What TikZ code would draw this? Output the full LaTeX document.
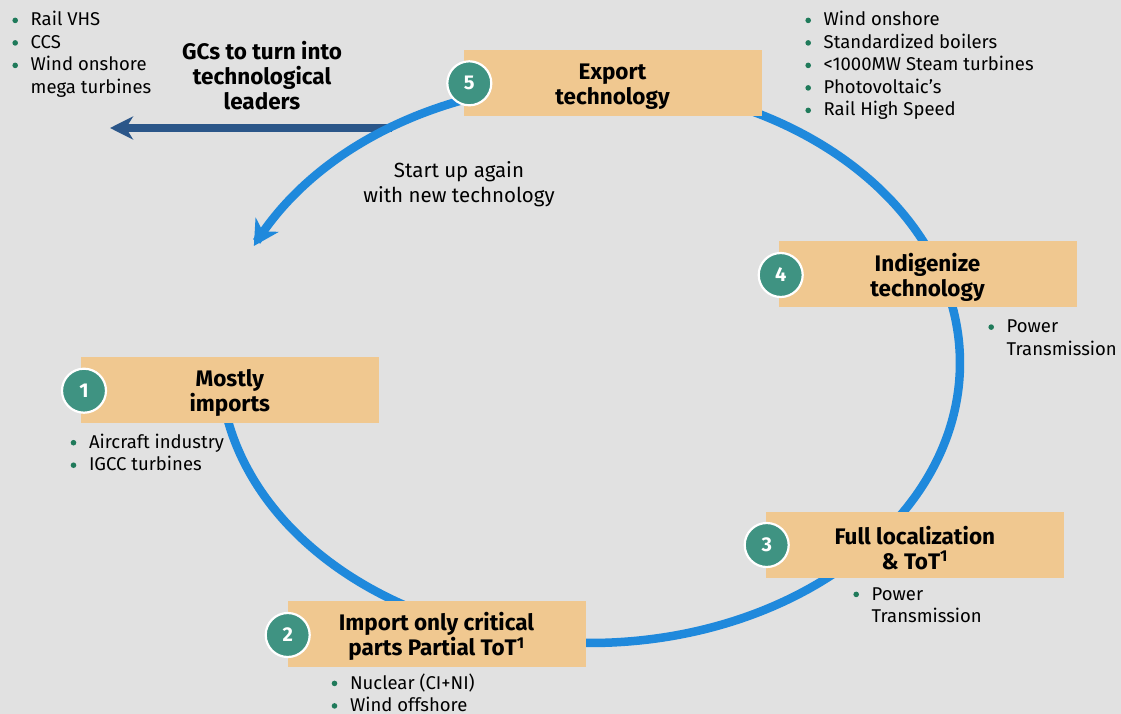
\documentclass[tikz,border=0pt]{standalone}
\usepackage{fontspec}
\setmainfont{Fira Sans}
\usetikzlibrary{arrows.meta}
\definecolor{bgc}{HTML}{E1E1E1}
\definecolor{boxc}{HTML}{F0C890}
\definecolor{tealc}{HTML}{3F9382}
\definecolor{bluec}{HTML}{1F89DC}
\definecolor{darkb}{HTML}{2B5689}
\definecolor{bulc}{HTML}{1F7A5A}
\newcommand\bl{\makebox[15.5pt][l]{\makebox[0pt]{\tikz[x=1pt,y=1pt,baseline=0pt]\fill[bulc] (0,5.6) circle (2.8);}}}
\begin{document}
\begin{tikzpicture}[x=1pt,y=-1pt,
  stepbox/.style={fill=boxc, minimum width=298pt, minimum height=66pt, inner sep=0pt},
  boxtext/.style={inner sep=0pt, align=center, font=\fontsize{22.5}{25}\selectfont\bfseries},
  numcirc/.style={circle, fill=tealc, draw=white, line width=2.2pt, minimum size=44pt, inner sep=0pt, text=white, font=\fontsize{20}{20}\selectfont\bfseries},
  blist/.style={anchor=base west, inner sep=0pt, font=\fontsize{18.5}{22.5}\selectfont, align=left},
  plaintext/.style={inner sep=0pt, align=center, font=\fontsize{20.5}{25}\selectfont},
  boldtext/.style={inner sep=0pt, align=center, font=\fontsize{22.5}{25}\selectfont\bfseries},
  bluearc/.style={draw=bluec, line width=8.5pt, -{Stealth[length=25pt,width=27pt,inset=8pt]}},
  darkarrow/.style={draw=darkb, line width=8pt, -{Stealth[length=23pt,width=23pt,inset=7pt]}}
]
\useasboundingbox (0,0) rectangle (1121,714);
\fill[bgc] (0,0) rectangle (1121,714);

% dark arrow
\coordinate (gstart) at (392,128);
\coordinate (gtip) at (110,128);
\draw[darkarrow] (gstart) -- (gtip);

% blue cycle (ellipse arc, ending in the restart arrow)
\draw[bluearc] plot[domain=185:515.3, samples=200, smooth] ({590+370*cos(\x)}, {363-280*sin(\x)});

% boxes
\node[stepbox] (b5) at (612.5,83.3) {};
\node[stepbox] (b4) at (927.5,274.3) {};
\node[stepbox] (b1) at (229.8,390.3) {};
\node[stepbox] (b3) at (914.8,544.7) {};
\node[stepbox] (b2) at (436.5,633.8) {};
\node[boxtext] (t5) at ([yshift=-3pt]b5.center) {Export\\technology};
\node[boxtext] (t4) at ([yshift=-3pt]b4.center) {Indigenize\\technology};
\node[boxtext] (t1) at ([yshift=-3pt]b1.center) {Mostly\\imports};
\node[boxtext] (t3) at ([yshift=-3pt]b3.center) {Full localization\\\& ToT\textsuperscript{1}};
\node[boxtext] (t2) at ([yshift=-3pt]b2.center) {Import only critical\\parts Partial ToT\textsuperscript{1}};

% circles
\node[numcirc] (c5) at (469.3,83.3) {5};
\node[numcirc] (c4) at (780.7,275) {4};
\node[numcirc] (c1) at (84,390.7) {1};
\node[numcirc] (c3) at (766.7,545) {3};
\node[numcirc] (c2) at (287.7,635) {2};

% texts
\node[boldtext] (gcs) at (262,76) {GCs to turn into\\technological\\leaders};
\node[plaintext] (restart) at (459,184) {Start up again\\with new technology};

% lists
\node[blist] (l0) at (15,26) {\begin{tabular}[t]{@{}l@{}l@{}}\bl & Rail VHS\\ \bl & CCS\\ \bl & Wind onshore\\ & mega turbines\end{tabular}};
\node[blist] (l5) at (808,26) {\begin{tabular}[t]{@{}l@{}l@{}}\bl & Wind onshore\\ \bl & Standardized boilers\\ \bl & <1000MW Steam turbines\\ \bl & Photovoltaic's\\ \bl & Rail High Speed\end{tabular}};
\node[blist] (l4) at (991,332.7) {\begin{tabular}[t]{@{}l@{}l@{}}\bl & Power\\ & Transmission\end{tabular}};
\node[blist] (l1) at (73.3,448.3) {\begin{tabular}[t]{@{}l@{}l@{}}\bl & Aircraft industry\\ \bl & IGCC turbines\end{tabular}};
\node[blist] (l3) at (856,600) {\begin{tabular}[t]{@{}l@{}l@{}}\bl & Power\\ & Transmission\end{tabular}};
\node[blist] (l2) at (334.3,689) {\begin{tabular}[t]{@{}l@{}l@{}}\bl & Nuclear (CI+NI)\\ \bl & Wind offshore\end{tabular}};
\end{tikzpicture}
\end{document}
